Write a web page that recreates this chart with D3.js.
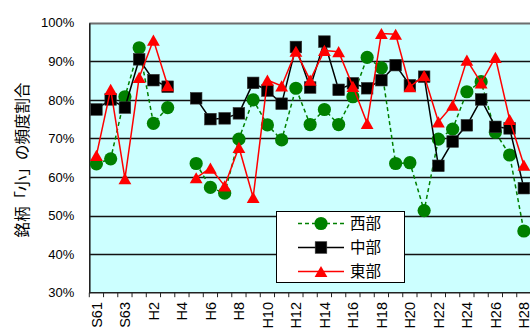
<!DOCTYPE html>
<html>
<head>
<meta charset="utf-8">
<script src="https://cdn.jsdelivr.net/npm/d3@7"></script>
<style>
  html, body { margin: 0; padding: 0; background: #fff; }
  svg { display: block; }
  .num { font-family: "Liberation Sans", Arial, sans-serif; font-size: 13px; fill: #000; }
  .xl { font-family: "Liberation Sans", Arial, sans-serif; font-size: 14.5px; fill: #000; }
  .jp { font-family: "Noto Sans CJK JP", sans-serif; fill: #000; }
</style>
</head>
<body>
<svg id="chart" width="530" height="333"></svg>
<script>
// Fiscal years: Showa 61-63, then Heisei 1-28
const categories = ["S61","S62","S63","H1","H2","H3","H4","H5","H6","H7","H8","H9","H10",
  "H11","H12","H13","H14","H15","H16","H17","H18","H19","H20","H21","H22","H23","H24",
  "H25","H26","H27","H28"];

// Share (%) of "small" brand frequency by region; H4 has no data
const west = [63.4, 64.7, 80.8, 93.5, 73.9, 78.0, null, 63.5, 57.3, 55.8, 69.8, 80.0, 73.5,
  69.6, 83.0, 73.6, 77.5, 73.6, 80.8, 91.0, 88.3, 63.5, 63.7, 51.3, 69.8, 72.4, 82.1,
  84.7, 71.6, 65.7, 46.0];
const central = [77.5, 80.1, 78.0, 90.5, 85.1, 83.4, null, 80.4, 75.0, 75.2, 76.5, 84.4, 82.4,
  79.0, 93.7, 83.2, 95.1, 82.6, 84.3, 83.0, 85.1, 89.0, 83.8, 86.0, 62.9, 69.2, 73.4,
  80.1, 73.0, 72.6, 57.1];
const east = [65.6, 82.7, 59.6, 85.8, 95.5, 83.7, null, 59.8, 62.3, 57.7, 67.7, 54.7, 85.1,
  83.6, 92.6, 85.1, 92.8, 92.5, 83.5, 73.9, 97.2, 97.0, 83.4, 86.3, 74.3, 78.6, 90.3,
  84.4, 91.0, 74.9, 63.1];

const yTicks = [30, 40, 50, 60, 70, 80, 90, 100];
const seriesNames = ["西部", "中部", "東部"];

const series = [
  { name: seriesNames[0], values: west, color: "#008000", dash: "4,3", marker: "circle" },
  { name: seriesNames[1], values: central, color: "#000000", dash: null, marker: "square" },
  { name: seriesNames[2], values: east, color: "#ff0000", dash: null, marker: "triangle" }
];

const svg = d3.select("#chart");
const plotL = 89.3, plotR = 531, plotT = 22.7, plotB = 292.7;

const x = d3.scaleBand().domain(categories).range([plotL, plotR]).paddingInner(0).paddingOuter(0);
const y = d3.scaleLinear().domain([30, 100]).range([plotB, plotT]);

// plot background
svg.append("rect")
  .attr("x", plotL).attr("y", plotT)
  .attr("width", plotR - plotL).attr("height", plotB - plotT)
  .attr("fill", "#ccffff");

// horizontal gridlines
svg.append("g").selectAll("line")
  .data(yTicks.filter(t => t > 30 && t < 100))
  .join("line")
  .attr("x1", plotL).attr("x2", plotR)
  .attr("y1", d => Math.round(y(d)) + 0.5).attr("y2", d => Math.round(y(d)) + 0.5)
  .attr("stroke", "#111").attr("stroke-width", 1.3);

// top frame
svg.append("line")
  .attr("x1", plotL).attr("x2", plotR)
  .attr("y1", Math.round(plotT) + 0.5).attr("y2", Math.round(plotT) + 0.5)
  .attr("stroke", "#6e6e6e").attr("stroke-width", 2);

// y axis
const yAxis = d3.axisLeft(y).tickValues(yTicks).tickSize(0).tickPadding(15)
  .tickFormat(d => d + "%");
const gy = svg.append("g").attr("transform", `translate(${plotL},0)`).call(yAxis);
gy.select(".domain").attr("stroke", "#222").attr("stroke-width", 1.6);
gy.selectAll("text").attr("class", "num");
gy.attr("font-family", null).attr("font-size", null);

// x axis: tick marks on category boundaries, labels on every other category
const gx = svg.append("g");
gx.append("line")
  .attr("x1", plotL).attr("x2", plotR)
  .attr("y1", plotB).attr("y2", plotB)
  .attr("stroke", "#222").attr("stroke-width", 1.6);
const bounds = categories.map(c => x(c)).concat([x(categories[categories.length - 1]) + x.bandwidth()]);
gx.selectAll("line.tick")
  .data(bounds)
  .join("line")
  .attr("class", "tick")
  .attr("x1", d => d).attr("x2", d => d)
  .attr("y1", plotB).attr("y2", plotB + 4.5)
  .attr("stroke", "#222").attr("stroke-width", 1);
gx.selectAll("text")
  .data(categories.filter((c, i) => i % 2 === 0))
  .join("text")
  .attr("class", "xl")
  .attr("transform", d => `translate(${x(d) + x.bandwidth() / 2},302) rotate(-90)`)
  .attr("text-anchor", "end")
  .attr("dy", "0.36em")
  .text(d => d);

// y axis title
svg.append("text")
  .attr("class", "jp")
  .attr("font-size", 15.5)
  .attr("transform", "translate(22,160) rotate(-90)")
  .attr("text-anchor", "middle")
  .attr("dy", "0.36em")
  .text("銘柄「小」の頻度割合");

// marker shapes
function drawMarker(sel, type, color) {
  if (type === "circle") {
    sel.append("circle").attr("r", 6.6).attr("fill", color);
  } else if (type === "square") {
    sel.append("rect").attr("x", -5.8).attr("y", -5.8).attr("width", 11.6).attr("height", 11.6)
      .attr("fill", color).attr("stroke", "#333").attr("stroke-width", 0.6);
  } else {
    sel.append("path").attr("d", "M0,-5.6L6.4,5.6L-6.4,5.6Z").attr("fill", color);
  }
}

const line = d3.line()
  .defined(d => d.v != null)
  .x(d => x(d.c) + x.bandwidth() / 2)
  .y(d => y(d.v));

const plot = svg.append("g");
series.forEach(s => {
  const pts = categories.map((c, i) => ({ c, v: s.values[i] }));
  const g = plot.append("g");
  g.append("path")
    .datum(pts)
    .attr("d", line)
    .attr("fill", "none")
    .attr("stroke", s.color)
    .attr("stroke-width", 1.5)
    .attr("stroke-dasharray", s.dash);
  g.selectAll("g.pt")
    .data(pts.filter(p => p.v != null))
    .join("g")
    .attr("class", "pt")
    .attr("transform", p => `translate(${x(p.c) + x.bandwidth() / 2},${y(p.v)})`)
    .each(function () { drawMarker(d3.select(this), s.marker, s.color); });
});

// legend
const lg = svg.append("g");
lg.append("rect")
  .attr("x", 276.5).attr("y", 211.5).attr("width", 128).attr("height", 71)
  .attr("fill", "#fff").attr("stroke", "#000").attr("stroke-width", 1);
const rows = [223.5, 247.5, 271.5];
series.forEach((s, i) => {
  const r = lg.append("g").attr("transform", `translate(0,${rows[i]})`);
  r.append("line").attr("x1", 298).attr("x2", 344).attr("y1", 0).attr("y2", 0)
    .attr("stroke", s.color).attr("stroke-width", 1.5).attr("stroke-dasharray", s.dash);
  const m = r.append("g").attr("transform", "translate(321,0)");
  drawMarker(m, s.marker, s.color);
  r.append("text").attr("class", "jp").attr("font-size", 15.5)
    .attr("x", 350).attr("dy", "0.36em").text(s.name);
});
</script>
</body>
</html>
